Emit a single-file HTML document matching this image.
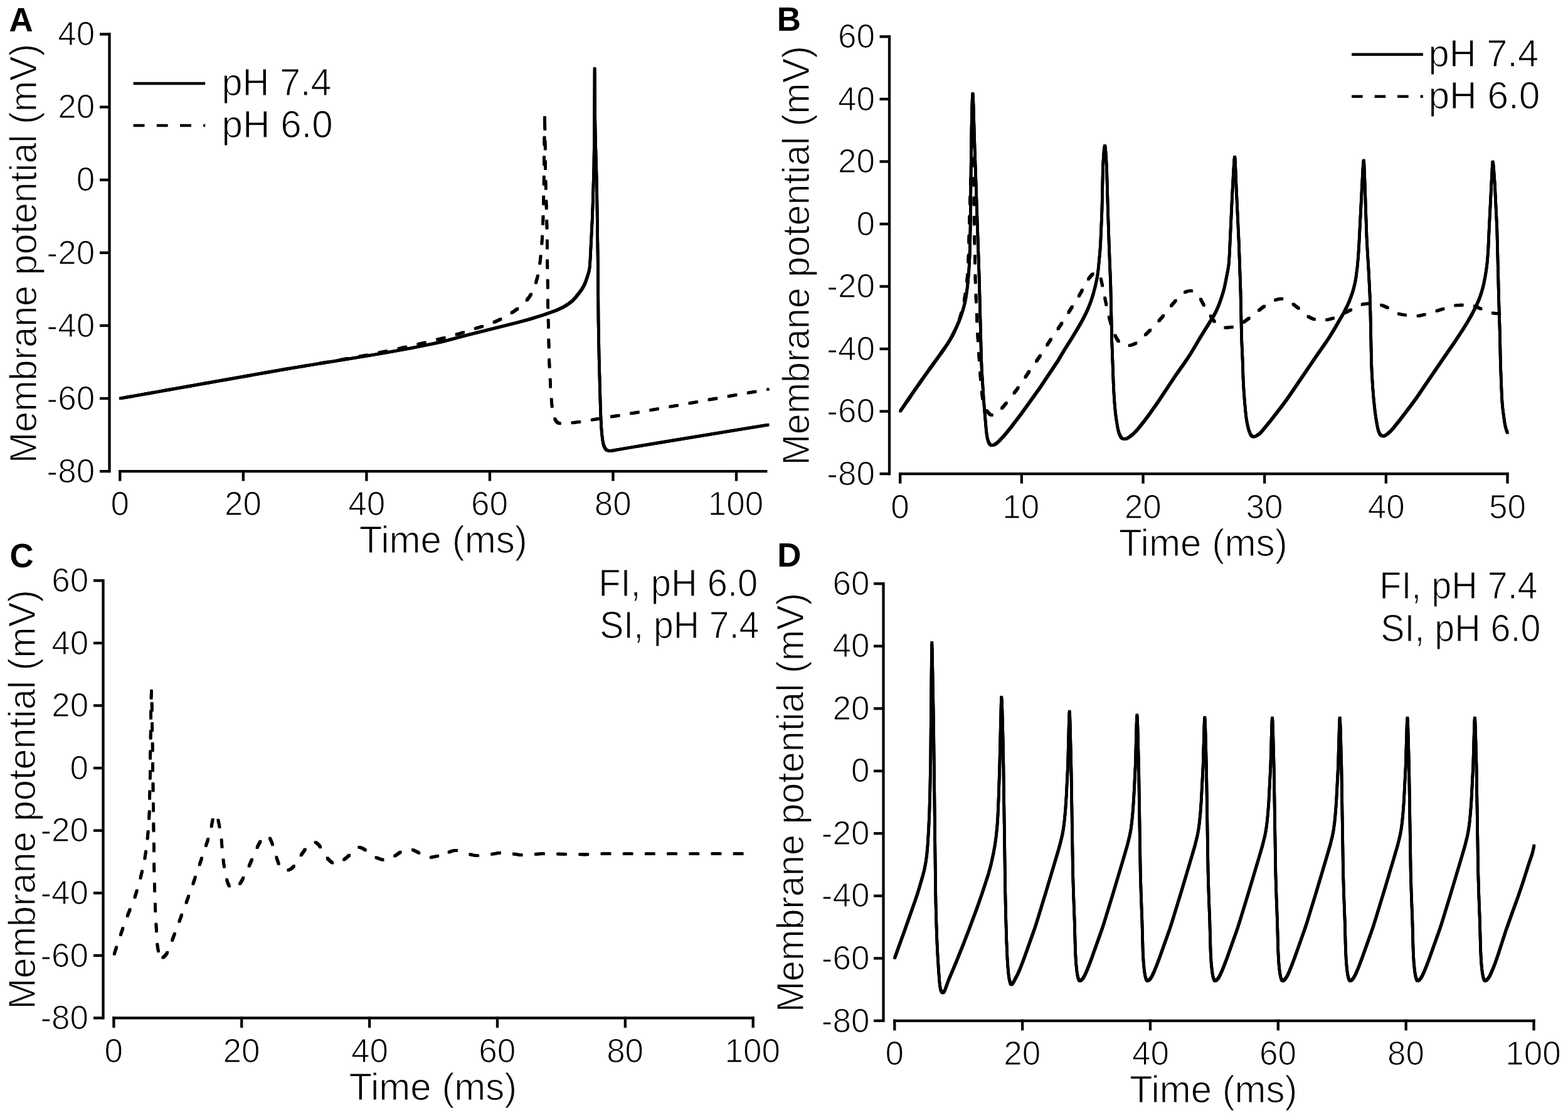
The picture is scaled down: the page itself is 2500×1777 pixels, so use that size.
<!DOCTYPE html>
<html><head><meta charset="utf-8"><title>Membrane potential simulations</title>
<style>html,body{margin:0;padding:0;background:#fff;} svg{display:block;}</style>
</head><body>
<svg width="2500" height="1777" viewBox="0 0 2500 1777" font-family="'Liberation Sans', Arial, Helvetica, sans-serif" fill="#000">
<rect width="2500" height="1777" fill="#fff"/>
<line x1="174.5" y1="52.35" x2="174.5" y2="753.25" stroke="#000" stroke-width="4.3"/>
<line x1="159" y1="54.5" x2="174.5" y2="54.5" stroke="#000" stroke-width="4.3"/>
<text x="92.28" y="72.2" font-size="53.04" stroke="#fff" stroke-width="1.2" stroke-linejoin="round">40</text>
<line x1="159" y1="170.6" x2="174.5" y2="170.6" stroke="#000" stroke-width="4.3"/>
<text x="92.28" y="188.3" font-size="53.04" stroke="#fff" stroke-width="1.2" stroke-linejoin="round">20</text>
<line x1="159" y1="286.7" x2="174.5" y2="286.7" stroke="#000" stroke-width="4.3"/>
<text x="121.72" y="304.4" font-size="53.04" stroke="#fff" stroke-width="1.2" stroke-linejoin="round">0</text>
<line x1="159" y1="402.8" x2="174.5" y2="402.8" stroke="#000" stroke-width="4.3"/>
<text x="74.51" y="420.5" font-size="53.04" stroke="#fff" stroke-width="1.2" stroke-linejoin="round">-20</text>
<line x1="159" y1="518.9" x2="174.5" y2="518.9" stroke="#000" stroke-width="4.3"/>
<text x="74.51" y="536.6" font-size="53.04" stroke="#fff" stroke-width="1.2" stroke-linejoin="round">-40</text>
<line x1="159" y1="635" x2="174.5" y2="635" stroke="#000" stroke-width="4.3"/>
<text x="74.51" y="652.7" font-size="53.04" stroke="#fff" stroke-width="1.2" stroke-linejoin="round">-60</text>
<line x1="159" y1="751.1" x2="174.5" y2="751.1" stroke="#000" stroke-width="4.3"/>
<text x="74.51" y="768.8" font-size="53.04" stroke="#fff" stroke-width="1.2" stroke-linejoin="round">-80</text>
<line x1="189.15" y1="751.1" x2="1223.4" y2="751.1" stroke="#000" stroke-width="4.3"/>
<line x1="191.3" y1="748.95" x2="191.3" y2="766.6" stroke="#000" stroke-width="4.3"/>
<text x="176.45" y="820.7" font-size="53.04" stroke="#fff" stroke-width="1.2" stroke-linejoin="round">0</text>
<line x1="387.84" y1="748.95" x2="387.84" y2="766.6" stroke="#000" stroke-width="4.3"/>
<text x="358.01" y="820.7" font-size="53.04" stroke="#fff" stroke-width="1.2" stroke-linejoin="round">20</text>
<line x1="584.38" y1="748.95" x2="584.38" y2="766.6" stroke="#000" stroke-width="4.3"/>
<text x="555.34" y="820.7" font-size="53.04" stroke="#fff" stroke-width="1.2" stroke-linejoin="round">40</text>
<line x1="780.92" y1="748.95" x2="780.92" y2="766.6" stroke="#000" stroke-width="4.3"/>
<text x="751.09" y="820.7" font-size="53.04" stroke="#fff" stroke-width="1.2" stroke-linejoin="round">60</text>
<line x1="977.46" y1="748.95" x2="977.46" y2="766.6" stroke="#000" stroke-width="4.3"/>
<text x="947.76" y="820.7" font-size="53.04" stroke="#fff" stroke-width="1.2" stroke-linejoin="round">80</text>
<line x1="1174" y1="748.95" x2="1174" y2="766.6" stroke="#000" stroke-width="4.3"/>
<text x="1128.78" y="820.7" font-size="53.04" stroke="#fff" stroke-width="1.2" stroke-linejoin="round">100</text>
<text x="14.48" y="50.1" font-size="52.9" font-weight="bold">A</text>
<text x="572.7" y="880.9" font-size="61.14" textLength="268.13" lengthAdjust="spacingAndGlyphs" stroke="#fff" stroke-width="1.2" stroke-linejoin="round">Time (ms)</text>
<text transform="translate(57.5 738.19) rotate(-90)" x="0" y="0" font-size="61.14" textLength="668.55" lengthAdjust="spacingAndGlyphs" stroke="#fff" stroke-width="1.2" stroke-linejoin="round">Membrane potential (mV)</text>
<line x1="212.6" y1="133.1" x2="327.2" y2="133.1" stroke="#000" stroke-width="4.5"/>
<line x1="212.6" y1="200" x2="327.2" y2="200" stroke="#000" stroke-width="4.5" stroke-dasharray="17.9 19.3"/>
<text x="353.54" y="151.5" font-size="61.14" textLength="174.92" lengthAdjust="spacingAndGlyphs" stroke="#fff" stroke-width="1.2" stroke-linejoin="round">pH 7.4</text>
<text x="353.49" y="218.9" font-size="61.14" textLength="177.3" lengthAdjust="spacingAndGlyphs" stroke="#fff" stroke-width="1.2" stroke-linejoin="round">pH 6.0</text>
<defs><path id="t1" d="M191.3 635L453.23 588.65L491.9 582.22L578.79 568.29L617.05 561.83L654.43 555.02L688.16 548.25L701.45 545.37L710.4 543.22L745.94 533.69L823.97 514.32L844.04 508.87L867.72 501.5L885.41 495.14L891.67 492.48L897.42 489.68L902.66 486.76L907.02 483.94L912.34 479.72L917.3 474.52L925.01 464.81L927.51 461.2L929.6 457.79L931.46 454.25L933.1 450.61L936.35 441.58L938.87 433.15L939.67 429.24L940.23 425.28L941.11 412.52L944.3 349.4L945.3 321.42L946.87 266.24L947.71 209.04L948.1 109.05L948.76 191.15L949.43 224.34L951.54 297.51L953.22 412.7L954.07 513.1L955.19 572.29L957.49 654.25L958.57 678.63L959.51 690.99L960.82 701.71L962.09 707.97L962.91 710.64L963.83 712.83L965.71 715.83L966.82 716.94L968.15 717.78L971.23 718.56L975.22 718.37L987.01 716.18L1076.19 701.34L1225.02 677.05" fill="none" stroke="#000" stroke-width="1.6" stroke-linejoin="round" stroke-linecap="butt"/></defs>
<use href="#t1" x="-1.5" y="-1.5"/>
<use href="#t1" x="0" y="-1.5"/>
<use href="#t1" x="1.5" y="-1.5"/>
<use href="#t1" x="-1.5" y="0"/>
<use href="#t1" x="0" y="0"/>
<use href="#t1" x="1.5" y="0"/>
<use href="#t1" x="-1.5" y="1.5"/>
<use href="#t1" x="0" y="1.5"/>
<use href="#t1" x="1.5" y="1.5"/>
<defs><path id="t2" d="M191.3 635L444.95 590.09L561.67 570.2L601.77 562.65L641.3 554.35L680.68 545.3L715.22 536.69L729.45 532.64L754.19 524.65L774.88 518.45L785.02 514.74L795.58 509.94L807.92 503.33L818.48 496.85L823.07 493.63L827.18 490.45L831.75 486.57L835.84 482.75L838.88 479.57L841.71 476.21L844.32 472.67L846.7 468.97L848.82 465.13L850.68 461.14L852.44 456.68L854.12 451.76L857.31 440.19L859.47 428.8L861.62 412.95L863.27 396.63L864.79 374.28L865.84 351.51L866.52 329.12L867.06 299.12L868.5 180.67L869.97 288.26L872.01 361.43L873.78 495.41L875.32 561.8L875.91 580.19L877.74 616.94L879.11 636.49L880.26 648.44L881.55 656.73L883.15 663.33L884.95 668.19L885.89 669.92L887.28 671.83L888.67 673.22L890.34 674.24L893.02 675L895.41 675.2L901 675L907.78 674.43L929.61 671.71L957.19 666.87L991.55 661.39L1035.33 653.97L1171.6 629.78L1225.2 620.52" fill="none" stroke="#000" stroke-width="1.6" stroke-linejoin="round" stroke-linecap="butt" stroke-dasharray="12.9 18.7" stroke-dashoffset="23.18"/></defs>
<use href="#t2" x="-1.5" y="-1.5"/>
<use href="#t2" x="0" y="-1.5"/>
<use href="#t2" x="1.5" y="-1.5"/>
<use href="#t2" x="-1.5" y="0"/>
<use href="#t2" x="0" y="0"/>
<use href="#t2" x="1.5" y="0"/>
<use href="#t2" x="-1.5" y="1.5"/>
<use href="#t2" x="0" y="1.5"/>
<use href="#t2" x="1.5" y="1.5"/>
<line x1="1418" y1="56.25" x2="1418" y2="757.25" stroke="#000" stroke-width="4.3"/>
<line x1="1402.5" y1="58.4" x2="1418" y2="58.4" stroke="#000" stroke-width="4.3"/>
<text x="1336.08" y="76.1" font-size="53.04" stroke="#fff" stroke-width="1.2" stroke-linejoin="round">60</text>
<line x1="1402.5" y1="157.93" x2="1418" y2="157.93" stroke="#000" stroke-width="4.3"/>
<text x="1336.08" y="175.63" font-size="53.04" stroke="#fff" stroke-width="1.2" stroke-linejoin="round">40</text>
<line x1="1402.5" y1="257.46" x2="1418" y2="257.46" stroke="#000" stroke-width="4.3"/>
<text x="1336.08" y="275.16" font-size="53.04" stroke="#fff" stroke-width="1.2" stroke-linejoin="round">20</text>
<line x1="1402.5" y1="356.99" x2="1418" y2="356.99" stroke="#000" stroke-width="4.3"/>
<text x="1365.52" y="374.69" font-size="53.04" stroke="#fff" stroke-width="1.2" stroke-linejoin="round">0</text>
<line x1="1402.5" y1="456.51" x2="1418" y2="456.51" stroke="#000" stroke-width="4.3"/>
<text x="1318.31" y="474.21" font-size="53.04" stroke="#fff" stroke-width="1.2" stroke-linejoin="round">-20</text>
<line x1="1402.5" y1="556.04" x2="1418" y2="556.04" stroke="#000" stroke-width="4.3"/>
<text x="1318.31" y="573.74" font-size="53.04" stroke="#fff" stroke-width="1.2" stroke-linejoin="round">-40</text>
<line x1="1402.5" y1="655.57" x2="1418" y2="655.57" stroke="#000" stroke-width="4.3"/>
<text x="1318.31" y="673.27" font-size="53.04" stroke="#fff" stroke-width="1.2" stroke-linejoin="round">-60</text>
<line x1="1402.5" y1="755.1" x2="1418" y2="755.1" stroke="#000" stroke-width="4.3"/>
<text x="1318.31" y="772.8" font-size="53.04" stroke="#fff" stroke-width="1.2" stroke-linejoin="round">-80</text>
<line x1="1433.05" y1="755.1" x2="2405.5" y2="755.1" stroke="#000" stroke-width="4.3"/>
<line x1="1435.2" y1="752.95" x2="1435.2" y2="770.6" stroke="#000" stroke-width="4.3"/>
<text x="1420.35" y="826.1" font-size="53.04" stroke="#fff" stroke-width="1.2" stroke-linejoin="round">0</text>
<line x1="1628.86" y1="752.95" x2="1628.86" y2="770.6" stroke="#000" stroke-width="4.3"/>
<text x="1598.36" y="826.1" font-size="53.04" stroke="#fff" stroke-width="1.2" stroke-linejoin="round">10</text>
<line x1="1822.52" y1="752.95" x2="1822.52" y2="770.6" stroke="#000" stroke-width="4.3"/>
<text x="1792.69" y="826.1" font-size="53.04" stroke="#fff" stroke-width="1.2" stroke-linejoin="round">20</text>
<line x1="2016.18" y1="752.95" x2="2016.18" y2="770.6" stroke="#000" stroke-width="4.3"/>
<text x="1986.61" y="826.1" font-size="53.04" stroke="#fff" stroke-width="1.2" stroke-linejoin="round">30</text>
<line x1="2209.84" y1="752.95" x2="2209.84" y2="770.6" stroke="#000" stroke-width="4.3"/>
<text x="2180.8" y="826.1" font-size="53.04" stroke="#fff" stroke-width="1.2" stroke-linejoin="round">40</text>
<line x1="2403.5" y1="752.95" x2="2403.5" y2="770.6" stroke="#000" stroke-width="4.3"/>
<text x="2373.93" y="826.1" font-size="53.04" stroke="#fff" stroke-width="1.2" stroke-linejoin="round">50</text>
<text x="1238.86" y="49.3" font-size="52.9" font-weight="bold">B</text>
<text x="1784" y="885.7" font-size="61.14" textLength="268.75" lengthAdjust="spacingAndGlyphs" stroke="#fff" stroke-width="1.2" stroke-linejoin="round">Time (ms)</text>
<text transform="translate(1289.7 741.59) rotate(-90)" x="0" y="0" font-size="61.14" textLength="668.55" lengthAdjust="spacingAndGlyphs" stroke="#fff" stroke-width="1.2" stroke-linejoin="round">Membrane potential (mV)</text>
<line x1="2155.1" y1="86.8" x2="2268.9" y2="86.8" stroke="#000" stroke-width="4.5"/>
<line x1="2155.1" y1="153.8" x2="2268.9" y2="153.8" stroke="#000" stroke-width="4.5" stroke-dasharray="17.6 18.9"/>
<text x="2277.53" y="105.9" font-size="61.14" textLength="175.54" lengthAdjust="spacingAndGlyphs" stroke="#fff" stroke-width="1.2" stroke-linejoin="round">pH 7.4</text>
<text x="2277.47" y="172.8" font-size="61.14" textLength="177.92" lengthAdjust="spacingAndGlyphs" stroke="#fff" stroke-width="1.2" stroke-linejoin="round">pH 6.0</text>
<defs><path id="t3" d="M1435.2 655.6L1451.43 631.81L1468.8 606.86L1481.3 589.24L1497.09 567.59L1506.07 554.84L1510.34 548.55L1513.95 542.79L1517.89 535.83L1521.55 528.71L1525.45 520.38L1528.91 512.29L1531.76 504.82L1534.44 496.86L1536.61 489.58L1538.36 482.59L1539.74 475.94L1540.98 468.44L1543.32 449.38L1544.92 429.45L1546.08 406.28L1546.73 384.69L1547.23 354.69L1548.64 222.7L1549.85 168.32L1550.35 154.72L1550.82 149.15L1551 149.2L1551.07 149.6L1551.33 152.38L1551.91 165.17L1553.58 221.15L1561.21 441.41L1564.45 567.77L1565.29 589.76L1568.48 639.65L1572.61 687.87L1573.94 696.97L1575.31 702.38L1576.15 704.62L1577.26 706.73L1578.22 708L1579.68 709.36L1580.77 709.8L1583.15 709.49L1585.42 708.75L1587.45 707.51L1590.87 704.76L1593.81 702.06L1601.71 693.57L1611.5 681.43L1628.31 659.54L1657.2 619.22L1686.79 575.01L1696.82 558.18L1709.55 537.83L1717.64 524.49L1723.86 513.77L1729.87 502.47L1733.82 494.16L1737.47 485.28L1740.68 476.24L1743.6 466.67L1746.21 456.61L1748.72 445.28L1749.9 438.59L1750.78 432.25L1753.62 403.19L1754.64 388.83L1756.85 338.48L1758.51 264.5L1760.06 240.95L1760.75 234.99L1761.45 232.3L1761.74 232.35L1762.12 233.89L1762.8 240.26L1763.76 254.62L1764.59 271L1766.39 333.78L1768.27 390.55L1770.81 454.5L1772.73 544.07L1775.2 610.83L1776.13 629.2L1777.18 644.77L1778.35 657.11L1779.77 668.22L1781.96 681.64L1783.13 687.11L1784.63 691.66L1786.73 695.93L1787.63 697.22L1788.75 698.31L1790.13 699.07L1792.03 699.67L1793.62 699.79L1795.18 699.46L1797.36 698.47L1800.44 696.62L1805.53 692.76L1810.41 688.03L1814.9 682.94L1824.85 670.4L1833.02 659.53L1845.21 642.19L1875.37 596.92L1888.12 578.99L1897.27 565.38L1901.25 558.91L1912.58 539.58L1935.19 503.25L1938.96 496.19L1942.32 488.5L1945.01 481.39L1947.89 473.08L1950.02 466.2L1951.8 459.64L1953.38 452.62L1957.77 430.25L1959.19 420.76L1960.21 405.99L1964.41 315.29L1966.81 270.56L1967.89 254.59L1968.33 251.02L1968.52 250.25L1968.74 250.08L1969.12 252.84L1969.51 259.63L1970.87 293.6L1975.27 387.1L1977.96 463.05L1979.59 539.43L1981.09 573L1982.11 604.18L1982.83 618.16L1983.85 632.92L1985.51 652.45L1986.59 662.8L1987.68 670.32L1989.32 678.96L1991.04 685.53L1993.23 691.1L1994.2 692.84L1995.43 694.39L1996.62 695.46L1997.64 696.07L1998.82 696.18L2000.38 695.83L2002.57 694.87L2005.67 693.04L2008.21 691.12L2010.25 689.22L2013.71 685.34L2026.36 669.85L2042.47 648.94L2050.84 637.72L2057.97 627.58L2098.18 568.34L2113.8 546.07L2119.56 537.41L2128.51 522.72L2142.3 498.82L2147.24 489.21L2151.45 479.71L2156.15 466.95L2157.97 460.82L2159.54 454.61L2160.93 447.96L2162.15 440.86L2164.13 424.99L2165.63 408.26L2166.69 391.49L2172.98 268.05L2173.74 258.08L2174.04 256.1L2174.36 255.61L2174.85 260.37L2175.41 272.76L2178.93 375.9L2179.93 395.47L2182.31 434.6L2184.12 470.95L2184.99 500.94L2186.58 578.12L2187.4 597.31L2188.77 618.86L2190.26 637.2L2192.24 655.49L2194.03 668.17L2196.52 681.94L2198.13 687.7L2199.24 690.25L2200.25 691.95L2201.26 693.16L2202.53 694.1L2203.96 694.8L2205.52 695.1L2206.71 694.92L2208.17 694.29L2212.41 691.29L2216.63 687.63L2220.7 683.23L2231.83 669.6L2252.33 642.48L2259.38 632.77L2301.21 571.24L2320.09 543.93L2332.6 524.87L2340.57 511.93L2347.48 499.75L2353.45 487.98L2357.79 478.1L2360.18 471.73L2362.29 465.27L2364.13 458.72L2365.81 451.72L2367.47 443.49L2369.07 434.03L2370.34 425.32L2371.35 416.58L2372.68 399.43L2374.15 367.06L2379.26 265.19L2379.79 258.42L2380.04 257.72L2380.25 258.05L2380.76 260.8L2381.37 266.77L2383.25 293.1L2386.77 364.61L2389.75 480.97L2391.42 532.95L2392.42 581.34L2394.45 632.5L2395.08 642.07L2395.96 651.63L2398.57 671.46L2399.66 677.36L2400.99 682.79L2402.55 687.75L2403.76 690.25" fill="none" stroke="#000" stroke-width="1.6" stroke-linejoin="round" stroke-linecap="butt"/></defs>
<use href="#t3" x="-1.5" y="-1.5"/>
<use href="#t3" x="0" y="-1.5"/>
<use href="#t3" x="1.5" y="-1.5"/>
<use href="#t3" x="-1.5" y="0"/>
<use href="#t3" x="0" y="0"/>
<use href="#t3" x="1.5" y="0"/>
<use href="#t3" x="-1.5" y="1.5"/>
<use href="#t3" x="0" y="1.5"/>
<use href="#t3" x="1.5" y="1.5"/>
<defs><path id="t4" d="M1435.2 655.6L1464.21 613.41L1480.36 590.54L1498.94 564.98L1507.89 552.2L1512.49 545.18L1519.26 533.38L1524.45 522.57L1529.11 510.65L1533.13 497.67L1536.4 483.64L1539.4 466.71L1541.46 450.44L1542.89 433.3L1543.6 420.92L1544.22 404.94L1546.56 318.17L1548.73 261.01L1549.96 238.24L1550.59 230.27L1551.09 227.12L1551.3 227.22L1551.41 228.01L1551.76 234L1552.49 259.99L1553.25 354.79L1555.09 445.97L1556.26 479.55L1558.52 529.9L1559.84 552.26L1563.68 608.93L1565.29 626.05L1566.57 635.16L1567.6 639.84L1568.81 644.07L1570.47 648.57L1572.3 652.56L1574.12 655.64L1575.82 657.85L1578.39 660.35L1580.11 661.35L1580.9 661.5L1582.89 661.35L1586.75 660.37L1589.21 659.11L1591.63 657.1L1600.09 647.51L1605.47 641.06L1613.44 631.05L1620.93 621.17L1627.9 611.4L1641.73 590.81L1657.62 568.25L1674.18 542.75L1692.42 515.98L1720.11 471.97L1723.9 465.38L1731.37 451.24L1734.9 445.43L1738.78 440.35L1742.1 436.92L1744.39 435.37L1747.76 434.13L1748.95 434L1749.74 434.13L1750.77 434.72L1751.66 435.52L1753.1 437.41L1754.36 440.74L1757.77 455.54L1762.19 477.91L1767.48 502.55L1771.63 518L1773.45 523.71L1775.26 528.59L1777.63 534.1L1779.77 538.39L1781.84 541.8L1784.27 544.97L1787.03 547.82L1789.23 549.5L1791.78 550.62L1794.5 551.26L1797.29 551.2L1800.86 550.69L1803.58 550.06L1806.6 549.03L1809.15 547.91L1811.6 546.57L1814.23 544.77L1816.72 542.77L1821.13 538.7L1834.79 525.21L1845.52 513.89L1853.93 504.24L1866.85 487.95L1875.69 477.61L1880.34 472.66L1884.84 468.71L1889.52 465.68L1892.83 464.32L1897.15 463.54L1898.74 463.54L1900.3 463.9L1904.28 465.73L1907.77 468.36L1910.78 471.54L1912.43 473.79L1914.32 476.85L1920.91 489.19L1923.76 494.01L1932.52 507.4L1935.13 510.93L1937.48 513.65L1940.76 516.54L1945.53 519.42L1949.91 521.37L1953.43 522.08L1959.82 521.83L1967.75 520.82L1972.01 519.8L1975.67 518.25L1978.78 516.45L1982.39 513.94L1998.9 501.3L2012.29 490.52L2022.84 483.27L2027.36 480.73L2031.78 478.89L2038.26 476.83L2042.59 476.13L2045.38 476.29L2048.83 477.29L2053.61 479.31L2057.42 481.49L2061.33 484.26L2069.86 490.88L2082.21 501.67L2085.05 503.87L2087.73 505.59L2091.67 507.51L2097.27 509.66L2101.11 510.77L2104.27 511.25L2108.26 511.16L2113.39 510.33L2121.93 508.22L2127.61 506.32L2133.47 503.76L2150.38 495.54L2164.51 488.05L2170.04 485.75L2173.11 484.88L2176.25 484.31L2187.4 483.35L2191.4 483.34L2195.34 483.97L2199.55 485.22L2207.06 487.97L2213.22 490.83L2225.62 498.14L2228.14 499.33L2230.76 500.3L2233.84 501.08L2237.78 501.75L2250.1 503.16L2255.29 503.45L2259.69 503.47L2263.27 503.12L2267.59 502.28L2289.12 496.12L2313.16 488.59L2318.97 487.13L2325.31 486.35L2338.9 485.84L2344.5 485.87L2348.39 486.74L2351.74 488.04L2360.48 492L2370.52 495.98L2375.03 497.62L2378.49 498.58L2382.42 499.24L2389.19 499.88L2396.38 500.32L2403.17 500.5" fill="none" stroke="#000" stroke-width="1.6" stroke-linejoin="round" stroke-linecap="butt" stroke-dasharray="12.4 18.6" stroke-dashoffset="12.02"/></defs>
<use href="#t4" x="-1.5" y="-1.5"/>
<use href="#t4" x="0" y="-1.5"/>
<use href="#t4" x="1.5" y="-1.5"/>
<use href="#t4" x="-1.5" y="0"/>
<use href="#t4" x="0" y="0"/>
<use href="#t4" x="1.5" y="0"/>
<use href="#t4" x="-1.5" y="1.5"/>
<use href="#t4" x="0" y="1.5"/>
<use href="#t4" x="1.5" y="1.5"/>
<line x1="164.5" y1="923.15" x2="164.5" y2="1624.55" stroke="#000" stroke-width="4.3"/>
<line x1="149" y1="925.3" x2="164.5" y2="925.3" stroke="#000" stroke-width="4.3"/>
<text x="82.18" y="943" font-size="53.04" stroke="#fff" stroke-width="1.2" stroke-linejoin="round">60</text>
<line x1="149" y1="1024.89" x2="164.5" y2="1024.89" stroke="#000" stroke-width="4.3"/>
<text x="82.18" y="1042.59" font-size="53.04" stroke="#fff" stroke-width="1.2" stroke-linejoin="round">40</text>
<line x1="149" y1="1124.47" x2="164.5" y2="1124.47" stroke="#000" stroke-width="4.3"/>
<text x="82.18" y="1142.17" font-size="53.04" stroke="#fff" stroke-width="1.2" stroke-linejoin="round">20</text>
<line x1="149" y1="1224.06" x2="164.5" y2="1224.06" stroke="#000" stroke-width="4.3"/>
<text x="111.62" y="1241.76" font-size="53.04" stroke="#fff" stroke-width="1.2" stroke-linejoin="round">0</text>
<line x1="149" y1="1323.64" x2="164.5" y2="1323.64" stroke="#000" stroke-width="4.3"/>
<text x="64.41" y="1341.34" font-size="53.04" stroke="#fff" stroke-width="1.2" stroke-linejoin="round">-20</text>
<line x1="149" y1="1423.23" x2="164.5" y2="1423.23" stroke="#000" stroke-width="4.3"/>
<text x="64.41" y="1440.93" font-size="53.04" stroke="#fff" stroke-width="1.2" stroke-linejoin="round">-40</text>
<line x1="149" y1="1522.81" x2="164.5" y2="1522.81" stroke="#000" stroke-width="4.3"/>
<text x="64.41" y="1540.51" font-size="53.04" stroke="#fff" stroke-width="1.2" stroke-linejoin="round">-60</text>
<line x1="149" y1="1622.4" x2="164.5" y2="1622.4" stroke="#000" stroke-width="4.3"/>
<text x="64.41" y="1640.1" font-size="53.04" stroke="#fff" stroke-width="1.2" stroke-linejoin="round">-80</text>
<line x1="179.25" y1="1622.4" x2="1202.3" y2="1622.4" stroke="#000" stroke-width="4.3"/>
<line x1="181.4" y1="1620.25" x2="181.4" y2="1637.9" stroke="#000" stroke-width="4.3"/>
<text x="166.55" y="1692.6" font-size="53.04" stroke="#fff" stroke-width="1.2" stroke-linejoin="round">0</text>
<line x1="385.26" y1="1620.25" x2="385.26" y2="1637.9" stroke="#000" stroke-width="4.3"/>
<text x="355.43" y="1692.6" font-size="53.04" stroke="#fff" stroke-width="1.2" stroke-linejoin="round">20</text>
<line x1="589.12" y1="1620.25" x2="589.12" y2="1637.9" stroke="#000" stroke-width="4.3"/>
<text x="560.08" y="1692.6" font-size="53.04" stroke="#fff" stroke-width="1.2" stroke-linejoin="round">40</text>
<line x1="792.98" y1="1620.25" x2="792.98" y2="1637.9" stroke="#000" stroke-width="4.3"/>
<text x="763.15" y="1692.6" font-size="53.04" stroke="#fff" stroke-width="1.2" stroke-linejoin="round">60</text>
<line x1="996.84" y1="1620.25" x2="996.84" y2="1637.9" stroke="#000" stroke-width="4.3"/>
<text x="967.14" y="1692.6" font-size="53.04" stroke="#fff" stroke-width="1.2" stroke-linejoin="round">80</text>
<line x1="1200.7" y1="1620.25" x2="1200.7" y2="1637.9" stroke="#000" stroke-width="4.3"/>
<text x="1155.48" y="1692.6" font-size="53.04" stroke="#fff" stroke-width="1.2" stroke-linejoin="round">100</text>
<text x="15.58" y="903.8" font-size="52.9" font-weight="bold">C</text>
<text x="556.6" y="1753.2" font-size="61.14" textLength="267.73" lengthAdjust="spacingAndGlyphs" stroke="#fff" stroke-width="1.2" stroke-linejoin="round">Time (ms)</text>
<text transform="translate(56 1608.59) rotate(-90)" x="0" y="0" font-size="61.14" textLength="668.55" lengthAdjust="spacingAndGlyphs" stroke="#fff" stroke-width="1.2" stroke-linejoin="round">Membrane potential (mV)</text>
<text x="954.17" y="950.3" font-size="61.14" textLength="254.09" lengthAdjust="spacingAndGlyphs" stroke="#fff" stroke-width="1.2" stroke-linejoin="round">FI, pH 6.0</text>
<text x="956.23" y="1016.9" font-size="61.14" textLength="254.09" lengthAdjust="spacingAndGlyphs" stroke="#fff" stroke-width="1.2" stroke-linejoin="round">SI, pH 7.4</text>
<defs><path id="t5" d="M181.4 1522.8L188.94 1499.59L196.79 1476.92L203.58 1458.53L212.65 1436.31L215.2 1429.15L217.9 1420.78L222.44 1405.02L227.27 1386.03L230.19 1371.93L232.5 1357.71L234.31 1343.43L236.39 1323.54L237.4 1309.98L238.15 1294.8L239.11 1250.81L240.58 1140.02L241.15 1109.22L241.48 1100.83L241.95 1112.55L242.78 1160.95L245.83 1386.53L246.5 1415.72L247.55 1446.1L249.62 1488.45L250.45 1501.22L251.16 1508.38L252.31 1515.08L253.61 1519.68L254.73 1522.22L255.91 1524.29L257.1 1525.87L258.06 1526.55" fill="none" stroke="#000" stroke-width="1.6" stroke-linejoin="round" stroke-linecap="butt" stroke-dasharray="12.5 19.5" stroke-dashoffset="30.06"/></defs>
<use href="#t5" x="-1.5" y="-1.5"/>
<use href="#t5" x="0" y="-1.5"/>
<use href="#t5" x="1.5" y="-1.5"/>
<use href="#t5" x="-1.5" y="0"/>
<use href="#t5" x="0" y="0"/>
<use href="#t5" x="1.5" y="0"/>
<use href="#t5" x="-1.5" y="1.5"/>
<use href="#t5" x="0" y="1.5"/>
<use href="#t5" x="1.5" y="1.5"/>
<defs><path id="t6" d="M258.4 1526.6L259.52 1526.17L260.85 1525.31L264.01 1522.32L266.07 1519.41L268.2 1515.12L280.88 1481.86L297.06 1438.37L308.72 1406.01L331.49 1338.55L333.83 1330.9L335.79 1323.56L338.61 1309.04L339.7 1304.37L341.37 1299.03L341.91 1297.96L342.52 1297.5L343.28 1297.73L344.48 1298.77L345.44 1300.04L346.28 1301.83L348.1 1308.37L350.07 1317.76L351.66 1327.64L353.06 1338.34L355.45 1365.84L356.43 1374.58L358.34 1386.83L361.02 1400.17L362.8 1406.3L365.1 1411.38L366.2 1413.03L367.56 1414.48L369.15 1415.69L370.27 1416.09L371.86 1415.96L373.78 1415.42L375.62 1414.66L377.33 1413.64L380.88 1410.48L383.76 1406.66L387.46 1400.04L396.4 1381.7L405.54 1361.25L410.41 1349.85L412.5 1345.53L415.35 1340.72L418.16 1336.84L421.7 1333.04L422.63 1332.29L423.72 1331.82L425.69 1332.11L428.16 1333.38L429.51 1334.79L430.74 1336.82L432.87 1341.54L435.72 1349.02L441.58 1368.97L444.16 1376.11L446.07 1380.06L448.15 1383.46L450.88 1386.36L451.87 1387.03L452.62 1387.28L457.42 1387.2L459.76 1386.76L463.35 1385.12L466.2 1383.01L467.83 1381.27L469.52 1379.06L478.15 1365.59L485.28 1355.45L489.23 1350.42L492.49 1346.92L495.21 1344.61L498.06 1343.23L501.16 1342.46L502.75 1342.47L504.23 1343.06L506.48 1344.71L508.47 1346.66L510.96 1350.25L514.93 1357.64L517.01 1361.05L520.76 1366.24L524.11 1370.2L527.32 1373.19L530.83 1375.82L532.92 1377L534.84 1377.49L536.82 1377.24L539.37 1376.12L549.01 1369.69L553.06 1366.43L557.5 1362.4L565.81 1353.25L569.07 1350.96L570.16 1350.46L571.33 1350.2L572.92 1350.33L574.85 1350.84L577.47 1351.83L579.6 1352.9L582.6 1354.86L591.25 1361.3L596.96 1365L600.81 1367.11L603.76 1368.33L607.95 1369.65L611.44 1370.51L614.61 1370.95L617.4 1370.85L618.93 1370.43L620.77 1369.63L625.55 1366.74L631.57 1362.8L637.45 1358.65L639.84 1357.21L646.39 1354.28L649.06 1353.44L651.02 1353.07L652.62 1353L654.6 1353.24L656.53 1353.76L659.14 1354.77L665.95 1358.12L672.27 1362.31L675.37 1364.12L679.38 1365.91L682.08 1366.64L684.47 1366.66L687.26 1366.38L695.51 1364.81L703.28 1362.96L711.68 1360.34" fill="none" stroke="#000" stroke-width="1.6" stroke-linejoin="round" stroke-linecap="butt" stroke-dasharray="12.5 19.5" stroke-dashoffset="31.46"/></defs>
<use href="#t6" x="-1.5" y="-1.5"/>
<use href="#t6" x="0" y="-1.5"/>
<use href="#t6" x="1.5" y="-1.5"/>
<use href="#t6" x="-1.5" y="0"/>
<use href="#t6" x="0" y="0"/>
<use href="#t6" x="1.5" y="0"/>
<use href="#t6" x="-1.5" y="1.5"/>
<use href="#t6" x="0" y="1.5"/>
<use href="#t6" x="1.5" y="1.5"/>
<defs><path id="t7" d="M711.8 1360.3L715.32 1358.41L719.38 1356.74L723.61 1355.54L726.38 1355.2L728.77 1355.39L731.89 1356.07L749.42 1361.64L753.67 1362.74L760.41 1363.59L769.99 1364.1L772.39 1364.03L774.77 1363.7L784.87 1361.27L794.31 1359.51L798.66 1358.9L802.26 1358.7L807.44 1359.08L827.57 1362.33L833.15 1362.8L839.94 1362.56L857.87 1360.96L865.46 1360.6L933.05 1361.9L940.24 1361.74L958.62 1360.81L966.62 1360.6L1000.22 1360.8L1200.62 1360.6" fill="none" stroke="#000" stroke-width="1.6" stroke-linejoin="round" stroke-linecap="butt" stroke-dasharray="13.9 21.3" stroke-dashoffset="31.31"/></defs>
<use href="#t7" x="-1.5" y="-1.5"/>
<use href="#t7" x="0" y="-1.5"/>
<use href="#t7" x="1.5" y="-1.5"/>
<use href="#t7" x="-1.5" y="0"/>
<use href="#t7" x="0" y="0"/>
<use href="#t7" x="1.5" y="0"/>
<use href="#t7" x="-1.5" y="1.5"/>
<use href="#t7" x="0" y="1.5"/>
<use href="#t7" x="1.5" y="1.5"/>
<line x1="1408.5" y1="928.05" x2="1408.5" y2="1628.95" stroke="#000" stroke-width="4.3"/>
<line x1="1393" y1="930.2" x2="1408.5" y2="930.2" stroke="#000" stroke-width="4.3"/>
<text x="1327.58" y="947.9" font-size="53.04" stroke="#fff" stroke-width="1.2" stroke-linejoin="round">60</text>
<line x1="1393" y1="1029.71" x2="1408.5" y2="1029.71" stroke="#000" stroke-width="4.3"/>
<text x="1327.58" y="1047.41" font-size="53.04" stroke="#fff" stroke-width="1.2" stroke-linejoin="round">40</text>
<line x1="1393" y1="1129.23" x2="1408.5" y2="1129.23" stroke="#000" stroke-width="4.3"/>
<text x="1327.58" y="1146.93" font-size="53.04" stroke="#fff" stroke-width="1.2" stroke-linejoin="round">20</text>
<line x1="1393" y1="1228.74" x2="1408.5" y2="1228.74" stroke="#000" stroke-width="4.3"/>
<text x="1357.02" y="1246.44" font-size="53.04" stroke="#fff" stroke-width="1.2" stroke-linejoin="round">0</text>
<line x1="1393" y1="1328.26" x2="1408.5" y2="1328.26" stroke="#000" stroke-width="4.3"/>
<text x="1309.81" y="1345.96" font-size="53.04" stroke="#fff" stroke-width="1.2" stroke-linejoin="round">-20</text>
<line x1="1393" y1="1427.77" x2="1408.5" y2="1427.77" stroke="#000" stroke-width="4.3"/>
<text x="1309.81" y="1445.47" font-size="53.04" stroke="#fff" stroke-width="1.2" stroke-linejoin="round">-40</text>
<line x1="1393" y1="1527.29" x2="1408.5" y2="1527.29" stroke="#000" stroke-width="4.3"/>
<text x="1309.81" y="1544.99" font-size="53.04" stroke="#fff" stroke-width="1.2" stroke-linejoin="round">-60</text>
<line x1="1393" y1="1626.8" x2="1408.5" y2="1626.8" stroke="#000" stroke-width="4.3"/>
<text x="1309.81" y="1644.5" font-size="53.04" stroke="#fff" stroke-width="1.2" stroke-linejoin="round">-80</text>
<line x1="1424.15" y1="1626.8" x2="2447.5" y2="1626.8" stroke="#000" stroke-width="4.3"/>
<line x1="1426.3" y1="1624.65" x2="1426.3" y2="1642.3" stroke="#000" stroke-width="4.3"/>
<text x="1411.45" y="1697.1" font-size="53.04" stroke="#fff" stroke-width="1.2" stroke-linejoin="round">0</text>
<line x1="1630.14" y1="1624.65" x2="1630.14" y2="1642.3" stroke="#000" stroke-width="4.3"/>
<text x="1600.31" y="1697.1" font-size="53.04" stroke="#fff" stroke-width="1.2" stroke-linejoin="round">20</text>
<line x1="1833.98" y1="1624.65" x2="1833.98" y2="1642.3" stroke="#000" stroke-width="4.3"/>
<text x="1804.94" y="1697.1" font-size="53.04" stroke="#fff" stroke-width="1.2" stroke-linejoin="round">40</text>
<line x1="2037.82" y1="1624.65" x2="2037.82" y2="1642.3" stroke="#000" stroke-width="4.3"/>
<text x="2007.99" y="1697.1" font-size="53.04" stroke="#fff" stroke-width="1.2" stroke-linejoin="round">60</text>
<line x1="2241.66" y1="1624.65" x2="2241.66" y2="1642.3" stroke="#000" stroke-width="4.3"/>
<text x="2211.96" y="1697.1" font-size="53.04" stroke="#fff" stroke-width="1.2" stroke-linejoin="round">80</text>
<line x1="2445.5" y1="1624.65" x2="2445.5" y2="1642.3" stroke="#000" stroke-width="4.3"/>
<text x="2400.28" y="1697.1" font-size="53.04" stroke="#fff" stroke-width="1.2" stroke-linejoin="round">100</text>
<text x="1239.36" y="903.1" font-size="52.9" font-weight="bold">D</text>
<text x="1801.1" y="1756.7" font-size="61.14" textLength="267.32" lengthAdjust="spacingAndGlyphs" stroke="#fff" stroke-width="1.2" stroke-linejoin="round">Time (ms)</text>
<text transform="translate(1281.1 1613.29) rotate(-90)" x="0" y="0" font-size="61.14" textLength="668.55" lengthAdjust="spacingAndGlyphs" stroke="#fff" stroke-width="1.2" stroke-linejoin="round">Membrane potential (mV)</text>
<text x="2199.3" y="954.1" font-size="61.14" textLength="252.26" lengthAdjust="spacingAndGlyphs" stroke="#fff" stroke-width="1.2" stroke-linejoin="round">FI, pH 7.4</text>
<text x="2201.32" y="1021.5" font-size="61.14" textLength="254.99" lengthAdjust="spacingAndGlyphs" stroke="#fff" stroke-width="1.2" stroke-linejoin="round">SI, pH 6.0</text>
<defs><path id="t8" d="M1426.3 1527.3L1441.15 1486.31L1459.24 1435L1464.02 1420.58L1471.19 1396L1473.42 1387.49L1475.73 1376.13L1477.65 1363.07L1479.23 1345.14L1480.81 1317.99L1481.89 1292.41L1482.81 1260.42L1483.74 1212.03L1485.3 1050.84L1485.8 1024.05L1486.23 1035.94L1488.47 1152.32L1491.56 1412.3L1492.02 1439.9L1492.8 1469.09L1493.73 1495.87L1494.75 1518.25L1496.29 1543.4L1497.79 1563.74L1498.63 1571.7L1499.52 1576.39L1500.16 1578.28L1501.2 1580.44L1502.13 1581.73L1502.76 1582.2L1503.54 1582.24L1504.75 1581.23L1505.78 1579.52L1506.92 1576.97L1512.11 1562.69L1524.71 1532.84L1536.33 1503.88L1545.2 1480.73L1558.45 1445.11L1565.47 1425.11L1576.09 1392.39L1580.25 1376.94L1584.14 1358.96L1586.46 1345.97L1588.27 1332.49L1590.03 1314.98L1590.95 1300.61L1592.17 1271.43L1593.77 1222.66L1596.26 1120.29L1596.52 1112.7L1596.66 1111.1L1596.8 1111.07L1597.3 1116.64L1597.88 1131.03L1599.49 1193.41L1602.78 1422.18L1603.61 1459.37L1604.71 1496.96L1605.99 1527.33L1606.91 1540.9L1607.85 1551.65L1608.68 1558L1609.83 1563.47L1611.11 1567.68L1611.67 1568.74L1612.28 1569.2L1613.04 1568.98L1613.95 1568.21L1615.72 1565.56L1622.09 1553.55L1626.07 1544.82L1633.5 1525.39L1649.66 1479.77L1653.22 1468.73L1667.98 1420.54L1686.68 1357.66L1690.26 1344.96L1693.58 1331.36L1695.56 1320.34L1697.23 1306.84L1698.75 1290.11L1700.19 1268.56L1702.61 1219.02L1704.39 1149.04L1704.81 1137.85L1705.17 1133.88L1705.59 1137.69L1706.07 1150.48L1707.96 1227.65L1710.51 1389.63L1711.59 1425.62L1713.18 1467.59L1714.46 1514.77L1715.53 1534.74L1717.02 1548.66L1718.07 1554.97L1718.88 1558.47L1720.22 1561.8L1720.85 1562.81L1721.48 1563.28L1722.64 1563.05L1723.95 1562.15L1725.63 1560.44L1727.12 1558.57L1729.5 1554.43L1732.79 1547.14L1735.95 1539.36L1740.75 1526.63L1757.06 1480.64L1760.77 1469.23L1775.3 1421.8L1792.07 1365.45L1797.31 1347.39L1801.25 1331.48L1803.18 1320.85L1804.79 1308.16L1806.28 1292.23L1807.62 1272.67L1810.28 1219.94L1812.09 1153.57L1812.51 1143.18L1812.9 1139.61L1813.32 1143.56L1813.83 1156.35L1815.59 1224.32L1818.22 1390.3L1819.3 1425.88L1820.88 1467.45L1822.15 1514.64L1823.19 1534.21L1824.64 1548.13L1825.6 1554.05L1826.54 1558.34L1827.86 1561.68L1828.47 1562.71L1829.05 1563.24L1830.22 1563.11L1831.58 1562.29L1833.31 1560.63L1834.84 1558.8L1837.27 1554.69L1840.41 1547.77L1843.6 1540.01L1848.41 1527.29L1864.86 1480.92L1868.7 1469.13L1883.23 1421.7L1899.77 1366.11L1905.14 1347.68L1909.01 1332.16L1910.92 1321.94L1912.48 1310.04L1914 1294.51L1915.27 1276.56L1918.14 1221.03L1920 1156.26L1920.43 1146.27L1920.64 1143.88L1920.84 1143.29L1921.27 1147.65L1921.77 1160.04L1923.46 1222.82L1926.13 1390.8L1927.2 1425.98L1928.78 1467.55L1930.07 1515.14L1931.13 1534.71L1932.61 1548.62L1933.66 1554.93L1934.47 1558.43L1935.8 1561.77L1936.43 1562.79L1937.04 1563.28L1938.2 1563.06L1939.52 1562.17L1941.2 1560.47L1942.7 1558.6L1945.08 1554.46L1948.37 1547.17L1951.54 1539.39L1956.34 1526.67L1972.65 1480.67L1976.36 1469.26L1990.89 1421.84L2007.55 1365.87L2012.9 1347.43L2016.76 1331.9L2018.66 1321.68L2020.21 1309.78L2021.72 1294.25L2022.99 1276.3L2025.85 1220.77L2027.68 1157.6L2028.1 1147.61L2028.48 1144.04L2028.92 1147.51L2029.43 1159.5L2031.12 1221.08L2033.85 1391.46L2034.91 1426.24L2036.48 1467.41L2037.77 1514.99L2038.79 1534.16L2040.23 1548.09L2041.19 1554.01L2042.13 1558.3L2043.44 1561.64L2044.04 1562.67L2044.61 1563.23L2045.4 1563.24L2046.8 1562.51L2048.54 1560.87L2050.31 1558.71L2052.72 1554.59L2056.02 1547.3L2059.19 1539.52L2063.99 1526.8L2080.3 1480.81L2084.01 1469.4L2098.54 1421.97L2115.21 1366L2120.57 1347.57L2124.43 1332.04L2126.34 1321.82L2127.9 1309.92L2129.4 1294.4L2130.7 1276.04L2133.56 1220.52L2135.36 1158.14L2135.77 1148.15L2136.13 1144.17L2136.29 1144.19L2136.36 1144.58L2136.58 1146.97L2137.1 1158.56L2138.8 1220.14L2141.56 1391.71L2142.62 1426.5L2144.17 1467.27L2145.46 1514.85L2146.51 1534.42L2147.91 1547.94L2148.86 1553.87L2149.79 1558.16L2151.08 1561.51L2152.19 1563.15L2152.96 1563.27L2154.39 1562.6L2156.14 1560.97L2157.93 1558.83L2160.36 1554.71L2163.5 1547.8L2166.69 1540.03L2171.5 1527.31L2187.96 1480.94L2191.79 1469.15L2206.32 1421.73L2222.87 1366.14L2228.23 1347.7L2232.1 1332.18L2234.01 1321.96L2235.58 1310.06L2237.06 1294.94L2238.35 1276.98L2241.24 1221.06L2243.09 1157.09L2243.53 1147.1L2243.93 1144.06L2244.37 1148.43L2244.88 1160.82L2246.54 1221.99L2249.24 1391.17L2250.3 1425.96L2251.88 1467.53L2253.16 1514.71L2254.17 1533.88L2255.54 1547.41L2256.47 1553.33L2257.46 1558.02L2258.71 1561.39L2259.78 1563.06L2260.51 1563.29L2261.95 1562.64L2263.41 1561.28L2265.21 1559.14L2267.68 1555.05L2271.01 1547.78L2274.2 1540.01L2279.01 1527.29L2295.46 1480.93L2299.3 1469.14L2313.82 1421.71L2330.37 1366.12L2335.73 1347.69L2339.6 1332.16L2341.52 1321.94L2343.08 1310.05L2344.56 1294.92L2345.85 1276.97L2348.74 1221.04L2350.61 1156.67L2351.06 1146.68L2351.44 1144.08L2351.87 1148.44L2352.38 1160.83L2354.04 1222.01L2356.73 1390.79L2357.8 1425.97L2359.38 1467.54L2360.6 1513.13L2361.48 1531.1L2362.59 1543.85L2363.51 1550.59L2364.5 1556.1L2365.19 1558.8L2366.22 1561.4L2367.29 1563.07L2368.03 1563.29L2368.79 1563.07L2369.81 1562.43L2370.98 1561.35L2373.52 1558.28L2375.5 1554.82L2377.68 1550.11L2380.83 1542.76L2383.86 1534.92L2388.45 1521.7L2401.27 1482.12L2409.97 1457.62L2419.86 1430.58L2427.47 1408.24L2437.68 1376.23L2442.62 1361.85L2444.23 1355.66L2445.99 1347.04" fill="none" stroke="#000" stroke-width="1.6" stroke-linejoin="round" stroke-linecap="butt"/></defs>
<use href="#t8" x="-1.5" y="-1.5"/>
<use href="#t8" x="0" y="-1.5"/>
<use href="#t8" x="1.5" y="-1.5"/>
<use href="#t8" x="-1.5" y="0"/>
<use href="#t8" x="0" y="0"/>
<use href="#t8" x="1.5" y="0"/>
<use href="#t8" x="-1.5" y="1.5"/>
<use href="#t8" x="0" y="1.5"/>
<use href="#t8" x="1.5" y="1.5"/>
</svg>
</body></html>
